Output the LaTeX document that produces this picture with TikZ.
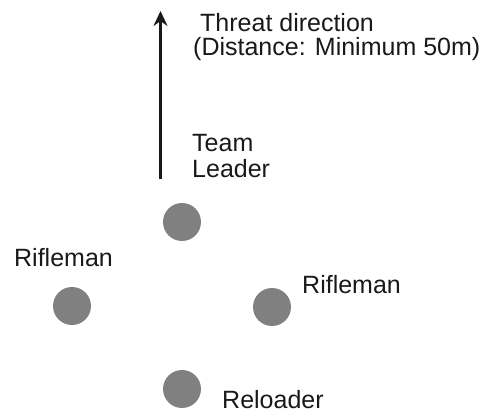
\documentclass[tikz,border=0pt]{standalone}
\usepackage{fontspec}
\setmainfont{Liberation Sans}
\usetikzlibrary{arrows.meta}
\begin{document}
\begin{tikzpicture}[x=1pt,y=-1pt,
  member/.style={circle,fill=black!50,draw=none,minimum size=38pt,inner sep=0pt},
  lbl/.style={anchor=base west,inner sep=0pt,font=\fontsize{25}{26}\selectfont,text=black!90}]
\useasboundingbox (0,0) rectangle (491,412);
\coordinate (abot) at (160.5,179);
\coordinate (atop) at (160.5,11);
\draw[line width=2.5pt,black!90,-{Stealth[length=15pt,width=14pt,inset=5pt]}] (abot) -- (atop);
\node[lbl] (threat) at (200,32) {Threat direction};
\node[lbl] (dist) at (193,56) {(Distance: Minimum 50m)};
\node[lbl] (team) at (192,152) {Team};
\node[lbl] (leader) at (192,178) {Leader};
\node[member] (tl) at (182,222) {};
\node[member] (rl) at (72,306) {};
\node[member] (rr) at (272,307) {};
\node[member] (rel) at (182,389) {};
\node[lbl] (rifl) at (14,266) {Rifleman};
\node[lbl] (rifr) at (302,293) {Rifleman};
\node[lbl] (reload) at (222,408) {Reloader};
\end{tikzpicture}
\end{document}
